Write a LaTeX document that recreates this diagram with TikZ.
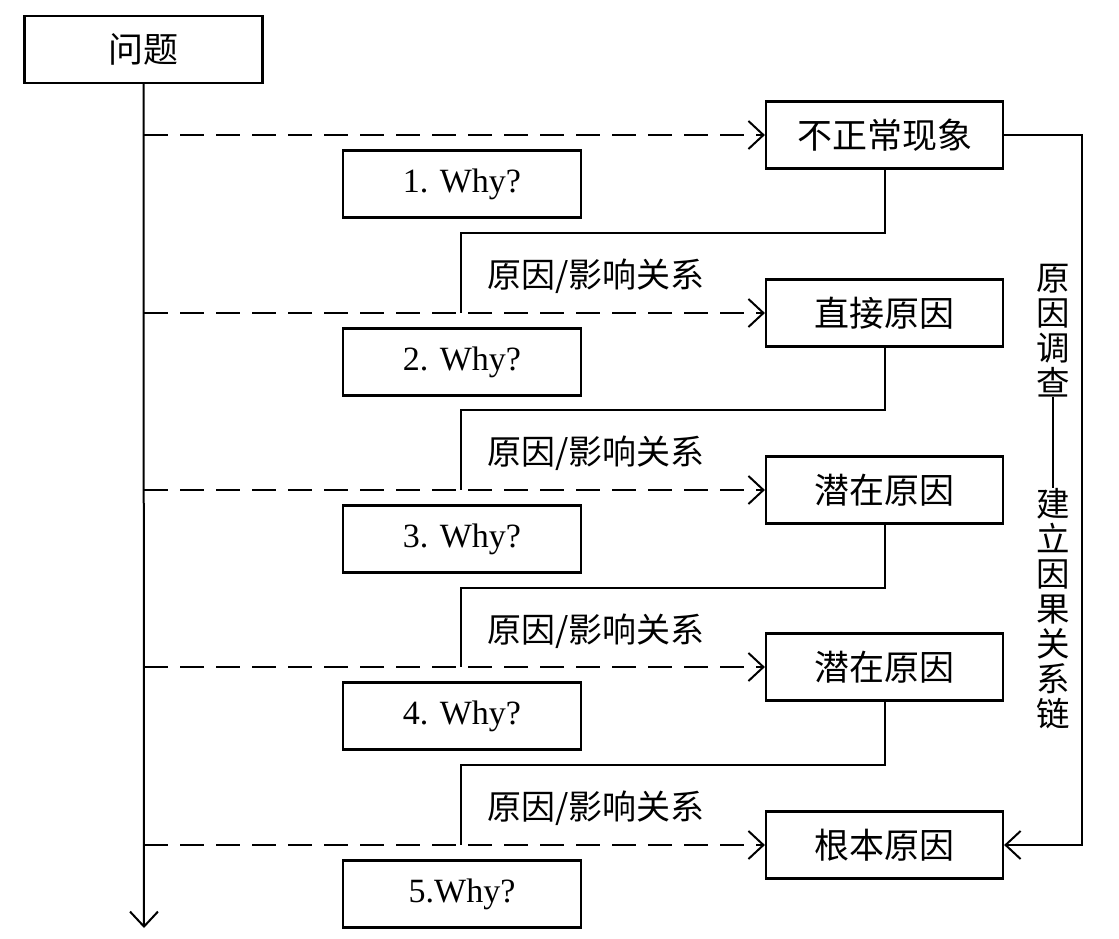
\documentclass[tikz,border=0pt]{standalone}
\usepackage{fontspec}
\setmainfont{Liberation Serif}
\newfontfamily\cjk{Noto Sans CJK SC}
\usetikzlibrary{arrows.meta}
\tikzset{
  box/.style={draw, line width=2.2pt, inner sep=0pt, minimum width=237pt, minimum height=67pt},
  cbox/.style={box, font=\cjk\fontsize{35}{40}\selectfont},
  wbox/.style={box, font=\fontsize{34}{40}\selectfont},
  conn/.style={line width=2pt},
  darrow/.style={conn, dash pattern=on 24pt off 12pt, -{Straight Barb[length=15pt,width=28pt,line width=2pt]}},
  sarrow/.style={conn, -{Straight Barb[length=15pt,width=28pt,line width=2pt]}},
  rel/.style={font=\cjk\fontsize{34}{38}\selectfont, inner sep=0pt},
  vtext/.style={font=\cjk\fontsize{33.5}{35}\selectfont, align=center, inner sep=0pt}
}
\begin{document}
\begin{tikzpicture}[x=1pt,y=-1pt]
\useasboundingbox (0,0) rectangle (1119,938);
\node[cbox, minimum width=238pt] (q) at (143.5,49.5) {问题};
\coordinate (spineend) at (144,928);
\draw[sarrow] (q.south) -- (spineend);
\foreach \k/\yr/\rt/\wt in {0/135/不正常现象/1. Why?, 1/313/直接原因/2. Why?, 2/490/潜在原因/3. Why?, 3/667/潜在原因/4. Why?, 4/845/根本原因/5.Why?}{
  \pgfmathsetmacro\yw{\yr+49}
  \node[cbox] (r\k) at (884.5,\yr) {\rt};
  \node[wbox, minimum width=238pt] (w\k) at (462,\yw) {\wt};
  \coordinate (s\k) at (144,\yr);
  \draw[darrow] (s\k) -- (r\k.west);
}
\foreach \k/\yh/\yj in {0/233/313, 1/410/490, 2/588/667, 3/765/845}{
  \pgfmathsetmacro\yl{\yh+43}
  \coordinate (h\k) at (461,\yh);
  \coordinate (j\k) at (461,\yj);
  \draw[conn] (r\k.south) |- (h\k) -- (j\k);
  \node[rel] (lab\k) at (596,\yl) {原因/影响关系};
}
\coordinate (c1) at (1082,135);
\coordinate (c2) at (1082,845);
\draw[sarrow] (r0.east) -- (c1) -- (c2) -- (r4.east);
\node[vtext, anchor=north] (invA) at (1053,264) {原\\因\\调\\查};
\node[vtext, anchor=south] (invB) at (1053,729) {建\\立\\因\\果\\关\\系\\链};
\draw[line width=1.6pt] (invA.south) -- (invB.north);
\end{tikzpicture}
\end{document}
